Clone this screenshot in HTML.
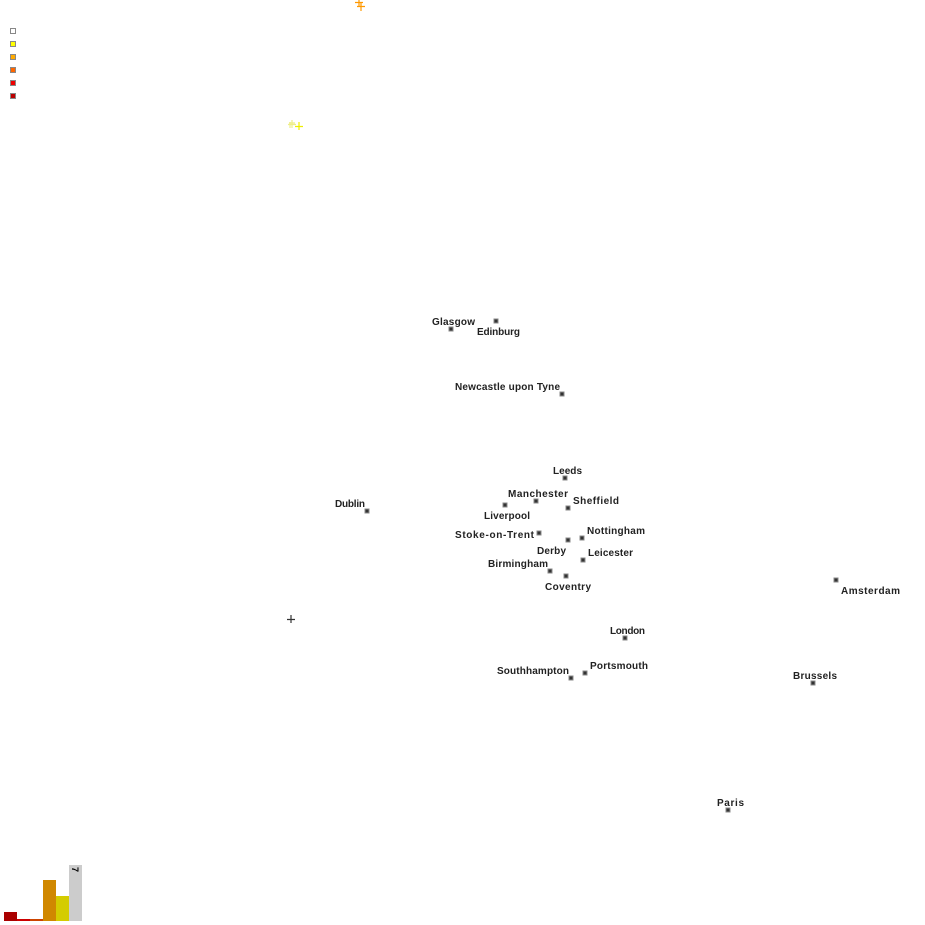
<!DOCTYPE html>
<html><head><meta charset="utf-8"><style>
html,body{margin:0;padding:0;background:#fff;}
svg{display:block;}
text{font-family:"Liberation Sans",sans-serif;font-weight:bold;font-size:10px;fill:#222;}
</style></head><body>
<svg width="925" height="925" viewBox="0 0 925 925" xmlns="http://www.w3.org/2000/svg">
<defs>
<g id="m"><rect x="-2.5" y="-2.5" width="5" height="5" fill="#888"/><rect x="-1.5" y="-1.5" width="3" height="3" fill="#333"/></g>
</defs>
<!-- legend -->
<g stroke="#888" stroke-width="1">
<rect x="10.5" y="28.5" width="5" height="5" fill="#fff"/>
<rect x="10.5" y="41.5" width="5" height="5" fill="#ff0"/>
<rect x="10.5" y="54.5" width="5" height="5" fill="#fa0"/>
<rect x="10.5" y="67.5" width="5" height="5" fill="#f60"/>
<rect x="10.5" y="80.5" width="5" height="5" fill="#e00"/>
<rect x="10.5" y="93.5" width="5" height="5" fill="#b00"/>
</g>
<!-- crosses -->
<g stroke-width="1.2">
<path d="M355 2.5h8M359 0v7M357 6.5h8M361 3v8" stroke="#f90"/>
<path d="M288 124.5h8M292 120v8M289 123h6M290 122v6" stroke="#ee8"/>
<path d="M295 126.5h8M299 122v8" stroke="#ee0"/>
<path d="M287 619.5h8M291 615v8" stroke="#333"/>
</g>
<!-- markers -->
<use href="#m" x="451" y="329"/><use href="#m" x="496" y="321"/><use href="#m" x="562" y="394"/>
<use href="#m" x="565" y="478"/><use href="#m" x="536" y="501"/><use href="#m" x="505" y="505"/>
<use href="#m" x="568" y="508"/><use href="#m" x="367" y="511"/><use href="#m" x="539" y="533"/>
<use href="#m" x="568" y="540"/><use href="#m" x="582" y="538"/><use href="#m" x="583" y="560"/>
<use href="#m" x="550" y="571"/><use href="#m" x="566" y="576"/><use href="#m" x="836" y="580"/>
<use href="#m" x="625" y="638"/><use href="#m" x="585" y="673"/><use href="#m" x="571" y="678"/>
<use href="#m" x="813" y="683"/><use href="#m" x="728" y="810"/>
<!-- labels -->
<text x="432" y="325" textLength="43">Glasgow</text>
<text x="477" y="335" textLength="43">Edinburg</text>
<text x="455" y="390" textLength="105">Newcastle upon Tyne</text>
<text x="553" y="474" textLength="29">Leeds</text>
<text x="508" y="497" textLength="60">Manchester</text>
<text x="573" y="504" textLength="46">Sheffield</text>
<text x="335" y="507" textLength="30">Dublin</text>
<text x="484" y="519" textLength="46">Liverpool</text>
<text x="455" y="538" textLength="79">Stoke-on-Trent</text>
<text x="587" y="534" textLength="58">Nottingham</text>
<text x="537" y="554" textLength="29">Derby</text>
<text x="588" y="556" textLength="45">Leicester</text>
<text x="488" y="567" textLength="60">Birmingham</text>
<text x="545" y="590" textLength="46">Coventry</text>
<text x="841" y="594" textLength="59">Amsterdam</text>
<text x="610" y="634" textLength="35">London</text>
<text x="590" y="669" textLength="58">Portsmouth</text>
<text x="497" y="674" textLength="72">Southhampton</text>
<text x="793" y="679" textLength="44">Brussels</text>
<text x="717" y="806" textLength="27">Paris</text>
<!-- histogram -->
<rect x="4" y="912" width="13" height="9" fill="#a00"/>
<rect x="17" y="919" width="13" height="2" fill="#c00"/>
<rect x="30" y="919" width="13" height="2" fill="#c40"/>
<rect x="43" y="880" width="13" height="41" fill="#d08800"/>
<rect x="56" y="896" width="13" height="25" fill="#d4cc00"/>
<rect x="69" y="865" width="13" height="56" fill="#ccc"/>
<text transform="translate(72,867) rotate(90)" style="font-size:9px;fill:#000">7</text>
</svg>
</body></html>
